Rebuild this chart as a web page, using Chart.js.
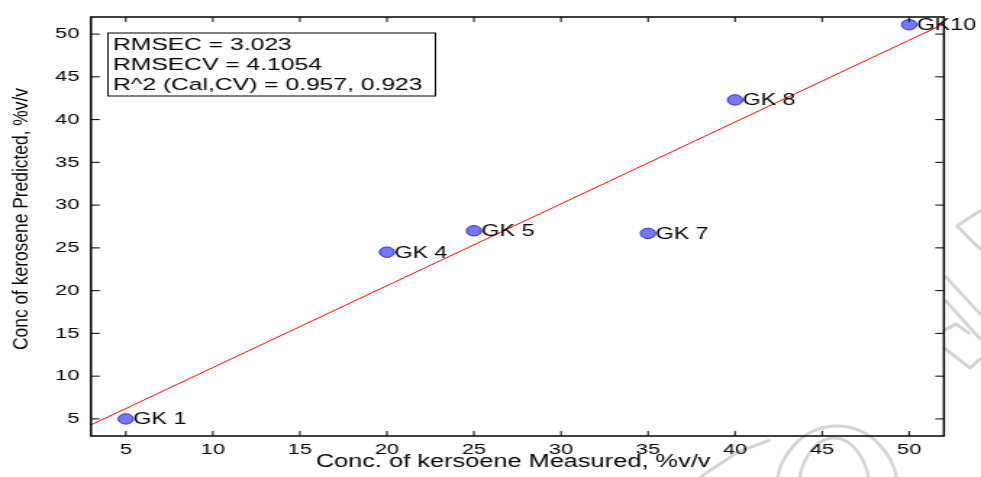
<!DOCTYPE html>
<html>
<head>
<meta charset="utf-8">
<script src="https://cdn.jsdelivr.net/npm/chart.js@4.4.1/dist/chart.umd.min.js"></script>
<style>
  html, body { margin: 0; padding: 0; background: #fff; }
</style>
</head>
<body>
<!-- canvas is rendered narrow and widened by inline CSS -> wide-aspect figure look -->
<canvas id="plot" width="677" height="477" style="display:block;width:981px;height:477px"></canvas>
<script>
/* ---------- data ---------- */
const sampleNames = ["GK 1", "GK 4", "GK 5", "GK 7", "GK 8", "GK10"];
const measured    = [5, 20, 25, 35, 40, 50];
const predicted   = [5.0, 24.5, 27.0, 26.7, 42.3, 51.1];

// regression line end points
const fitX = [3, 52];
const fitY = [4.3, 51.2];

const xTicks = [5, 10, 15, 20, 25, 30, 35, 40, 45, 50];
const yTicks = [5, 10, 15, 20, 25, 30, 35, 40, 45, 50];

const statsLines = ["RMSEC = 3.023", "RMSECV = 4.1054", "R^2 (Cal,CV) = 0.957, 0.923"];
const xTitle = "Conc. of kersoene Measured, %v/v";
const yTitle = "Conc of kerosene Predicted, %v/v";

/* ---------- look ---------- */
const FONT = '"Liberation Sans", Arial, Helvetica, sans-serif';
const SX = 677 / 981;   // screen px -> canvas px horizontally

/* faint grey logo strokes in the lower right corner (screen coords) */
function drawLogo(ctx) {
  ctx.save();
  ctx.scale(SX, 1);
  ctx.strokeStyle = "#d2d2d2";
  ctx.lineWidth = 3.2;
  ctx.lineJoin = "round";
  const poly = pts => {
    ctx.beginPath();
    pts.forEach((p, i) => i ? ctx.lineTo(p[0], p[1]) : ctx.moveTo(p[0], p[1]));
    ctx.stroke();
  };
  poly([[981, 210], [957, 226], [981, 250]]);
  poly([[945, 276], [981, 315]]);
  poly([[945, 300], [981, 340]]);
  poly([[943, 347], [970, 368], [981, 358]]);
  poly([[943, 331], [956, 324], [970, 334]]);
  ctx.beginPath(); ctx.ellipse(837, 492, 61, 66, 0, Math.PI, 2 * Math.PI); ctx.stroke();
  ctx.beginPath(); ctx.ellipse(834, 494, 36, 56, 0, Math.PI, 2 * Math.PI); ctx.stroke();
  poly([[700, 477], [738, 452], [770, 440]]);
  ctx.restore();
}

const decorPlugin = {
  id: "decor",
  beforeDraw(chart) {
    drawLogo(chart.ctx);
  },
  afterDraw(chart) {
    const ctx = chart.ctx;
    const { left, right, top, bottom } = chart.chartArea;
    const xs = chart.scales.x, ys = chart.scales.y;

    // box frame + inward ticks on all four sides
    ctx.save();
    ctx.strokeStyle = "#000";
    ctx.lineWidth = 1.5;
    ctx.strokeRect(left, top, right - left, bottom - top);
    ctx.lineWidth = 1;
    ctx.beginPath();
    xTicks.forEach(v => {
      const px = xs.getPixelForValue(v);
      ctx.moveTo(px, bottom); ctx.lineTo(px, bottom - 5);
      ctx.moveTo(px, top);    ctx.lineTo(px, top + 5);
    });
    yTicks.forEach(v => {
      const py = ys.getPixelForValue(v);
      ctx.moveTo(left, py);  ctx.lineTo(left + 6, py);
      ctx.moveTo(right, py); ctx.lineTo(right - 6, py);
    });
    ctx.stroke();

    // sample names next to each marker
    ctx.fillStyle = "#000";
    ctx.font = "16px " + FONT;
    ctx.textAlign = "left";
    ctx.textBaseline = "middle";
    chart.getDatasetMeta(0).data.forEach((pt, i) => {
      ctx.fillText(sampleNames[i], pt.x + 5.3, pt.y + 1);
    });

    // statistics box
    const bx = left + 11.7, by = top + 16;
    ctx.fillStyle = "#fff";
    ctx.fillRect(bx, by, 226, 63);
    ctx.strokeStyle = "#000";
    ctx.lineWidth = 1;
    ctx.strokeRect(bx, by, 226, 63);
    ctx.fillStyle = "#000";
    ctx.font = "17px " + FONT;
    ctx.textBaseline = "alphabetic";
    statsLines.forEach((s, i) => ctx.fillText(s, bx + 3.5, by + 17 + i * 20));

    // axis titles
    ctx.textAlign = "center";
    ctx.font = "17.5px " + FONT;
    ctx.fillText(xTitle, (left + right) / 2 - 3, 467);

    ctx.translate(15, 219);
    ctx.rotate(-Math.PI / 2);
    ctx.font = "15px " + FONT;
    ctx.textBaseline = "middle";
    const w = ctx.measureText(yTitle).width;
    ctx.scale(262 / w, 1);
    ctx.fillText(yTitle, 0, 0);
    ctx.restore();
  }
};

new Chart(document.getElementById("plot"), {
  data: {
    datasets: [
      {
        type: "scatter",
        data: measured.map((m, i) => ({ x: m, y: predicted[i] })),
        backgroundColor: "#7676f6",
        borderColor: "#2c2ce0",
        borderWidth: 1,
        pointRadius: 5.2,
        clip: false
      },
      {
        type: "line",
        data: fitX.map((x, i) => ({ x, y: fitY[i] })),
        borderColor: "#ff0000",
        borderWidth: 1,
        pointRadius: 0,
        fill: false
      }
    ]
  },
  options: {
    responsive: false,
    animation: false,
    events: [],
    layout: { padding: { top: 14, right: 25.6, left: 0, bottom: 0 } },
    plugins: { legend: { display: false }, tooltip: { enabled: false } },
    scales: {
      x: {
        type: "linear",
        min: 3, max: 52,
        afterBuildTicks: s => { s.ticks = xTicks.map(v => ({ value: v })); },
        afterFit: s => { s.height = 41; },
        grid: { display: false, drawTicks: false },
        border: { display: false },
        ticks: { color: "#000", font: { family: FONT, size: 15 }, padding: 5, maxRotation: 0 }
      },
      y: {
        type: "linear",
        min: 3, max: 52,
        afterBuildTicks: s => { s.ticks = yTicks.map(v => ({ value: v })); },
        afterFit: s => { s.width = 62.8; },
        grid: { display: false, drawTicks: false },
        border: { display: false },
        ticks: { color: "#000", font: { family: FONT, size: 15 }, padding: 8 }
      }
    }
  },
  plugins: [decorPlugin]
});
</script>
</body>
</html>
